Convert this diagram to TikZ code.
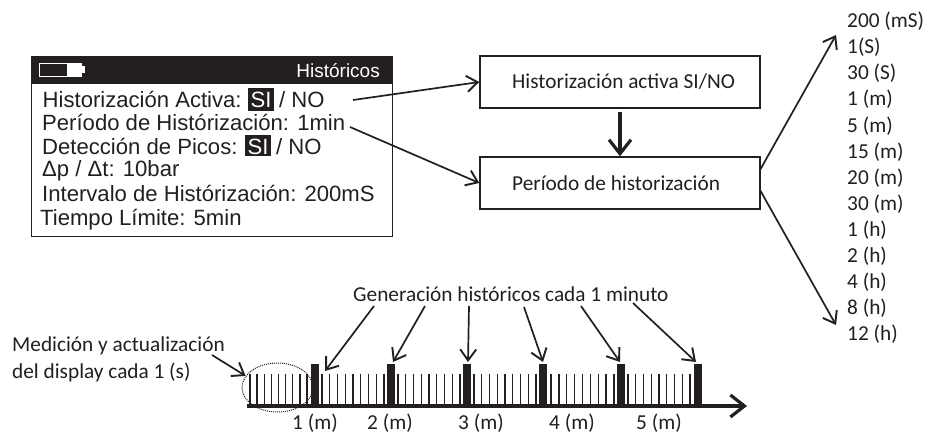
\documentclass[tikz,border=0pt]{standalone}
\usepackage{fontspec}
\setmainfont{Carlito}
\newfontfamily\arialf{Liberation Sans}
\usetikzlibrary{arrows.meta,shapes.geometric}
\definecolor{ink}{HTML}{231F20}
\tikzset{
  x=1pt,y=-1pt,
  panelline/.style={anchor=base west,inner sep=0pt,text=ink,font=\arialf\fontsize{22.1}{22.1}\selectfont},
  lbl/.style={anchor=base west,inner sep=0pt,text=ink,font=\fontsize{21.3}{21.3}\selectfont},
  minlbl/.style={anchor=base,inner sep=0pt,text=ink,font=\fontsize{21.3}{21.3}\selectfont},
  flowbox/.style={draw=ink,line width=1.4pt,fill=white,inner sep=0pt},
  barb/.style={-{Straight Barb[length=11pt,width=16pt,line width=1.9pt]},draw=ink,line width=1.7pt},
  heavybarb/.style={-{Straight Barb[length=14pt,width=22pt,line width=3.2pt]},draw=ink,line width=3.6pt},
  bar/.style={fill=ink,inner sep=0pt,minimum width=8pt,minimum height=42pt,anchor=south},
  tick/.style={draw=ink,line width=1.3pt},
}
\begin{document}
\begin{tikzpicture}
\useasboundingbox (0,0) rectangle (926,433);
% panel
\node[draw=ink,line width=1.2pt,minimum width=361pt,minimum height=179pt,inner sep=0pt,anchor=north west] (panel) at (30.5,56.5) {};
\node[fill=ink,minimum width=361pt,minimum height=27pt,inner sep=0pt,anchor=north west] (header) at (panel.north west) {};
\node[draw=white,line width=0.8pt,fill=ink,minimum width=29pt,minimum height=13pt,inner sep=0pt,anchor=west] (batt) at (38.5,70) {};
\node[fill=white,minimum width=15pt,minimum height=14pt,inner sep=0pt,anchor=west] (battfill) at (67,70) {};
\node[fill=white,minimum width=3pt,minimum height=7pt,inner sep=0pt,anchor=west] (battnub) at (82,70) {};
\node[anchor=base east,inner sep=0pt,text=white,font=\arialf\fontsize{19}{19}\selectfont] (title) at (380,78) {Históricos};
\node[panelline] (l1) at (42.5,108) {Historización Activa:};
\node[fill=ink,minimum width=26pt,minimum height=23pt,inner sep=0pt] (si1) at (261,99.5) {};
\node[inner sep=0pt,text=white,font=\arialf\fontsize{22.1}{22.1}\selectfont,anchor=base] (si1t) at (261,108) {SI};
\node[panelline] (l1b) at (279,108) {/ NO};
\node[panelline] (l2) at (42,131) {Período de Histórización: 1min};
\node[panelline] (l3) at (42,154) {Detección de Picos:};
\node[fill=ink,minimum width=26pt,minimum height=21pt,inner sep=0pt] (si2) at (258,145.5) {};
\node[inner sep=0pt,text=white,font=\arialf\fontsize{22.1}{22.1}\selectfont,anchor=base] (si2t) at (258,154) {SI};
\node[panelline] (l3b) at (276,154) {/ NO};
\node[panelline] (l4) at (42,176) {Δp / Δt: 10bar};
\node[panelline] (l5) at (42,201) {Intervalo de Histórización: 200mS};
\node[panelline] (l6) at (40,225) {Tiempo Límite: 5min};
% flow boxes
\node[flowbox,minimum width=280pt,minimum height=52pt] (box1) at (620,82) {};
\node[lbl] (box1t) at (512,89) {Historización activa SI/NO};
\node[flowbox,minimum width=280pt,minimum height=52pt] (box2) at (620,183) {};
\node[lbl] (box2t) at (512,190) {Período de historización};
% connectors
\coordinate (a1s) at (353,100);
\coordinate (a2s) at (350,127);
\draw[barb] (a1s) -- (box1.west);
\draw[barb] (a2s) -- (box2.west);
\draw[heavybarb,shorten <=3pt] (box1.south) -- (box2.north);
% value list
\foreach \n/\yy/\t in {a/28/200 (mS),b/54/1(S),c/80/30 (S),d/106/1 (m),e/132/5 (m),f/158/15 (m),g/184/20 (m),h/210/30 (m),i/236/1 (h),j/262/2 (h),k/288/4 (h),m/314/8 (h),n/340/12 (h)}
  \node[lbl] (v\n) at (847,\yy) {\t};
\coordinate (r1s) at (760,170);
\coordinate (r1e) at (836,35);
\coordinate (r2s) at (760,190);
\coordinate (r2e) at (836,325);
\draw[barb] (r1s) -- (r1e);
\draw[barb] (r2s) -- (r2e);
% timeline
\coordinate (tl0) at (247,406);
\coordinate (tl1) at (747,406);
\foreach \x in {315,391,467,543,621,698}
  \node[bar] (bar\x) at (\x,406) {};
\foreach \a/\b in {250/307,322/384,398/460,474/536,551/614,628/690}
  \foreach \k in {0,...,8}
    {\pgfmathsetmacro{\xx}{\a+\k*(\b-\a)/8}
    \draw[tick] (\xx,374) -- (\xx,406);}
\draw[heavybarb] (tl0) -- (tl1);
\node[draw=ink,densely dotted,line width=1pt,ellipse,minimum width=71pt,minimum height=49pt,inner sep=0pt] (oval) at (277.5,387.5) {};
% labels
\node[lbl] (med1) at (12,351) {Medición y actualización};
\node[lbl] (med2) at (12,378) {del display cada 1 (s)};
\coordinate (m1s) at (212,355);
\draw[barb] (m1s) -- (oval.160);
\node[lbl] (gen) at (353,301) {Generación históricos cada 1 minuto};
\coordinate (g1) at (374,306);
\coordinate (g2) at (425,306);
\coordinate (g3) at (469,306);
\coordinate (g4) at (524,307);
\coordinate (g5) at (581,306);
\coordinate (g6) at (633,303);
\coordinate (e1) at (325,371);
\coordinate (e2) at (393,362);
\coordinate (e3) at (468,362);
\coordinate (e4) at (543,362);
\coordinate (e5) at (620,362);
\coordinate (e6) at (696,362);
\foreach \i in {1,...,6} \draw[barb] (g\i) -- (e\i);
\foreach \n/\x/\t in {1/315/1 (m),2/390/2 (m),3/481/3 (m),4/572/4 (m),5/659/5 (m)}
  \node[minlbl] (t\n) at (\x,429) {\t};
\end{tikzpicture}
\end{document}
